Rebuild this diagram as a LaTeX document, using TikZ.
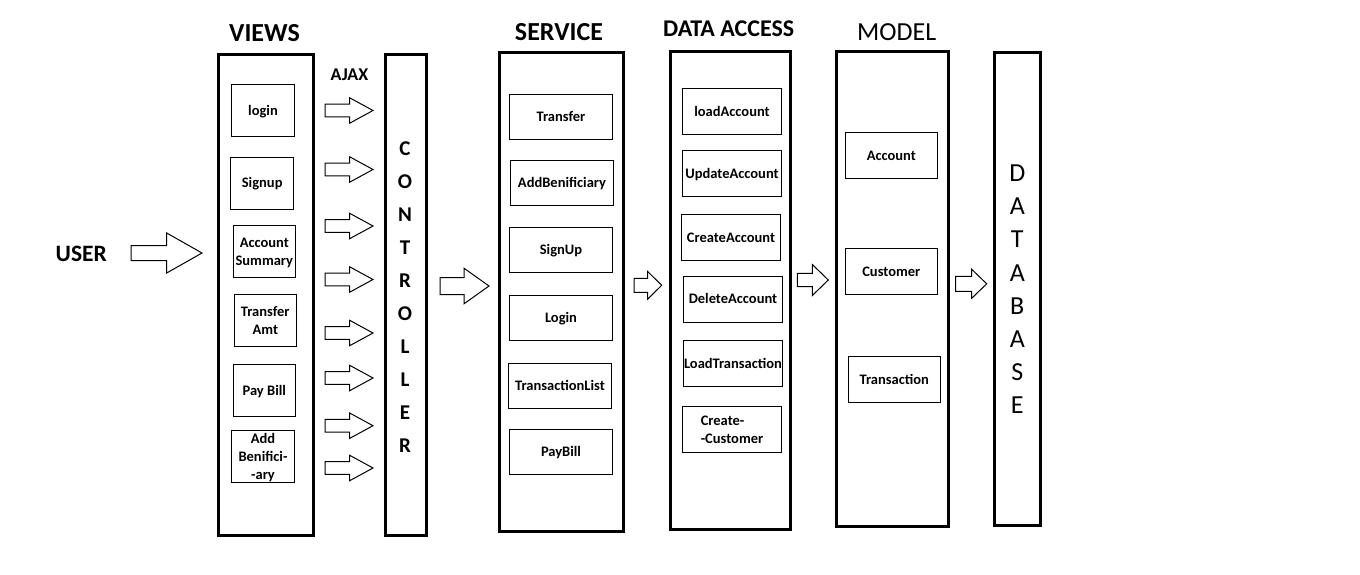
\documentclass[tikz,border=0pt]{standalone}
\usepackage{fontspec}
\setmainfont{Carlito}
\tikzset{
	layer/.style 2 args={draw,line width=3pt,inner sep=0pt,minimum width=#1,minimum height=#2},
	item/.style 2 args={draw,line width=1pt,inner sep=0pt,minimum width=#1,minimum height=#2,align=center,
		font=\bfseries\fontsize{14.5}{18}\selectfont,text height=9.5pt,text depth=0pt},
	title/.style={inner sep=0pt,font=\bfseries\fontsize{26}{30}\selectfont},
	ctrlletter/.style={inner sep=0pt,font=\bfseries\fontsize{21}{24}\selectfont},
	dbletter/.style={inner sep=0pt,font=\fontsize{26}{30}\selectfont},
	pics/fatarrow/.style n args={4}{code={
		\draw[line width=1pt] (0,#3) -- (#1,#3) -- (#1,#4) -- (#2,0) -- (#1,-#4) -- (#1,-#3) -- (0,-#3) -- cycle;
	}}
}
\begin{document}
\begin{tikzpicture}[x=1pt,y=-1pt]
	\useasboundingbox (0,0) rectangle (1360,574);

	\node [title] (viewstitle) at (264.5,33.3) {VIEWS};
	\node [title] (servicetitle) at (559,31.7) {SERVICE};
	\node [title,font=\bfseries\fontsize{24}{28}\selectfont] (datatitle) at (728.7,28.8) {DATA ACCESS};
	\node [title,font=\fontsize{26}{30}\selectfont] (modeltitle) at (896.7,31.7) {MODEL};
	\node [title,font=\bfseries\fontsize{23.5}{27}\selectfont] (user) at (81.3,253.7) {USER};
	\node [title,font=\bfseries\fontsize{18}{22}\selectfont] (ajax) at (349.5,74.8) {AJAX};

	\node [layer={95.6pt}{480.4pt}] (views) at (266,295) {};
	\node [layer={41.3pt}{481pt}] (ctrl) at (406.2,294.7) {};
	\node [layer={124.3pt}{479pt}] (service) at (561.3,291.7) {};
	\node [layer={120pt}{478pt}] (dataacc) at (730.8,290.5) {};
	\node [layer={112pt}{475.3pt}] (model) at (892.5,289.2) {};
	\node [layer={46.6pt}{473pt}] (db) at (1017.5,288.7) {};

	\node [item={62.5pt}{52pt}] (vlogin) at (263,110.3) {login};
	\node [item={62.5pt}{52pt}] (vsignup) at (262.2,183) {Signup};
	\node [item={62.5pt}{52pt},text height=27.5pt] (vsummary) at (264.3,251.3) {Account\\Summary};
	\node [item={62.5pt}{52pt},text height=27.5pt] (vtransfer) at (265.3,320.3) {Transfer\\Amt};
	\node [item={62.5pt}{52pt}] (vpaybill) at (264.3,390.3) {Pay Bill};
	\node [item={62.5pt}{52pt},text height=45.5pt] (vaddben) at (263,456.3) {Add\\Benifici-\\-ary};

	\node [item={103.4pt}{45pt}] (stransfer) at (561,116.8) {Transfer};
	\node [item={103.4pt}{45pt}] (saddben) at (562,182.8) {AddBenificiary};
	\node [item={103.4pt}{45pt}] (ssignup) at (561,249.8) {SignUp};
	\node [item={103.4pt}{45pt}] (slogin) at (561,317.8) {Login};
	\node [item={103.4pt}{45pt}] (stranslist) at (560,385.8) {TransactionList};
	\node [item={103.4pt}{45pt}] (spaybill) at (561,451.8) {PayBill};

	\node [item={99.4pt}{46pt}] (dload) at (732,111.3) {loadAccount};
	\node [item={99.4pt}{46pt}] (dupdate) at (732,173.3) {UpdateAccount};
	\node [item={99.4pt}{46pt}] (dcreate) at (731,237.3) {CreateAccount};
	\node [item={99.4pt}{46pt}] (ddelete) at (733,299.2) {DeleteAccount};
	\node [item={99.4pt}{46pt}] (dloadtrans) at (733,363.3) {LoadTransaction};
	\node [item={99.4pt}{46pt},align=left,text height=27.5pt] (dcreatecust) at (732,429.3) {Create-\\-Customer};

	\node [item={92pt}{46pt}] (maccount) at (891.3,155.3) {Account};
	\node [item={92pt}{46pt}] (mcustomer) at (891.3,271.3) {Customer};
	\node [item={92pt}{46pt}] (mtransaction) at (894.3,379.3) {Transaction};

	\foreach \ch [count=\i from 0] in {C,O,N,T,R,O,L,L,E,R}
		\node [ctrlletter] (ctrl\i) at (405,149+33*\i) {\ch};
	\foreach \ch [count=\i from 0] in {D,A,T,A,B,A,S,E}
		\node [dbletter] (db\i) at (1017.3,173.3+33.14*\i) {\ch};

	\pic (userarrow) at (131,253) {fatarrow={35.7}{71}{7.5}{20}};
	\foreach \y [count=\i] in {110.5,169.5,226,279.5,333,378,425.7,468}
		\pic (ajax\i) at (325,\y) {fatarrow={24.5}{48}{6.3}{12.8}};
	\pic (toservice) at (440,286) {fatarrow={24}{49}{8.5}{17.8}};
	\pic (todata) at (634,285.3) {fatarrow={13.7}{27.7}{7}{13.8}};
	\pic (tomodel) at (797.3,280) {fatarrow={15}{31}{6.7}{15.5}};
	\pic (todb) at (955.7,283.8) {fatarrow={16}{31}{7.5}{14.5}};
\end{tikzpicture}
\end{document}
